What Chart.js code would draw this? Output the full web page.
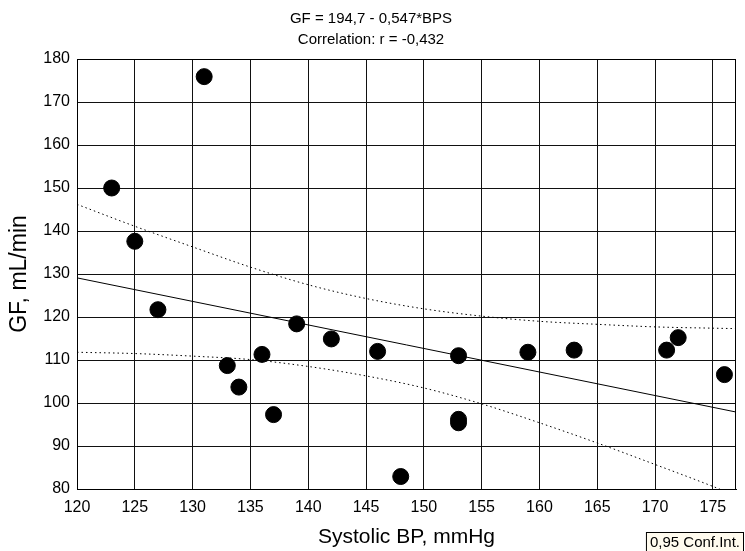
<!DOCTYPE html>
<html>
<head>
<meta charset="utf-8">
<script src="https://cdn.jsdelivr.net/npm/chart.js@4/dist/chart.umd.min.js"></script>
<style>
  body { margin: 0; background: #fff; }
  #wrap { width: 745px; height: 551px; }
</style>
</head>
<body>
<div id="wrap"><canvas id="chart-div" width="745" height="551"></canvas></div>
<script>
// data
const bpValues = [123, 125, 127, 131, 133, 134, 136, 137, 139, 142, 146, 148, 153, 153, 153, 159, 163, 171, 172, 176];
const gfValues = [150, 137.6, 121.7, 175.9, 108.7, 103.7, 111.3, 97.3, 118.4, 114.9, 112.0, 82.9, 111.0, 96.2, 95.4, 111.8, 112.3, 112.3, 115.2, 106.6];

// fitted line GF = 194,7 - 0,547*BPS, end points
const fitX = [120, 177];
const fitY = [129.1, 97.9];

// 0,95 confidence band
const bandX = [120, 125, 130, 135, 140, 145, 150, 155, 160, 165, 170, 175, 177];
const bandUpper = [146.2, 141.1, 136.3, 131.6, 127.5, 124.3, 121.9, 120.2, 119.0, 118.3, 117.7, 117.4, 117.3];
const bandLower = [111.8, 111.5, 110.9, 110.1, 108.5, 106.3, 103.5, 99.8, 95.4, 90.7, 85.7, 80.6, 78.4];

const xTicks = [120, 125, 130, 135, 140, 145, 150, 155, 160, 165, 170, 175];
const yTicks = [80, 90, 100, 110, 120, 130, 140, 150, 160, 170, 180];

const titleLines = ['GF = 194,7 - 0,547*BPS', 'Correlation: r = -0,432'];
const xTitle = 'Systolic BP, mmHg';
const yTitle = 'GF, mL/min';
const ciLabel = '0,95 Conf.Int.';

const FONT = '"Liberation Sans", Arial, sans-serif';
Chart.defaults.font.family = FONT;
Chart.defaults.color = '#000';

function pairs(xs, ys) {
    return xs.map((x, i) => ({ x: x, y: ys[i] }));
}

// frame round the plot + the conf. int. box
const framePlugin = {
    id: 'frame',
    afterDraw(chart) {
        const ctx = chart.ctx;
        const a = chart.chartArea;
        ctx.save();
        ctx.strokeStyle = '#000';
        ctx.lineWidth = 1;
        ctx.strokeRect(Math.round(a.left) + 0.5, Math.round(a.top) + 0.5,
            Math.round(a.right - a.left) - 1, Math.round(a.bottom - a.top));

        ctx.font = '15px ' + FONT;
        const w = ctx.measureText(ciLabel).width + 8;
        const h = 19;
        const bx = chart.width - 1 - w;
        const by = chart.height - h;
        ctx.fillStyle = '#fffbee';
        ctx.fillRect(bx, by, w, h);
        ctx.strokeRect(bx + 0.5, by + 0.5, w - 1, h);
        ctx.fillStyle = '#000';
        ctx.textBaseline = 'middle';
        ctx.fillText(ciLabel, bx + 4, by + h / 2 + 1);
        ctx.restore();
    }
};

const ctx = document.getElementById('chart-div').getContext('2d');

const chart = new Chart(ctx, {
    type: 'scatter',
    data: {
        datasets: [
            {
                label: 'points',
                data: pairs(bpValues, gfValues),
                backgroundColor: '#000',
                borderColor: '#000',
                pointRadius: 8,
                pointHoverRadius: 8
            },
            {
                label: 'fit',
                type: 'line',
                data: pairs(fitX, fitY),
                borderColor: '#000',
                borderWidth: 1,
                pointRadius: 0,
                fill: false
            },
            {
                label: 'upper',
                type: 'line',
                data: pairs(bandX, bandUpper),
                borderColor: '#000',
                borderWidth: 1,
                borderDash: [1.5, 3],
                pointRadius: 0,
                cubicInterpolationMode: 'monotone',
                fill: false
            },
            {
                label: 'lower',
                type: 'line',
                data: pairs(bandX, bandLower),
                borderColor: '#000',
                borderWidth: 1,
                borderDash: [1.5, 3],
                pointRadius: 0,
                cubicInterpolationMode: 'monotone',
                fill: false
            }
        ]
    },
    options: {
        responsive: false,
        animation: false,
        layout: { padding: { left: 0, right: 3, top: 0, bottom: 0 } },
        plugins: {
            legend: { display: false },
            tooltip: { enabled: false },
            title: {
                display: true,
                text: titleLines,
                font: { size: 15, weight: 'normal', lineHeight: 1.4 },
                padding: { top: 8, bottom: 9 }
            }
        },
        scales: {
            x: {
                type: 'linear',
                min: 120,
                max: 177,
                afterFit(scale) { scale.height = 62; },
                afterBuildTicks(scale) { scale.ticks = xTicks.map(v => ({ value: v })); },
                ticks: { font: { size: 16 }, padding: 9, includeBounds: false },
                grid: { color: '#111', lineWidth: 1, drawTicks: false },
                border: { display: true, color: '#000' },
                title: { display: true, text: xTitle, font: { size: 21 }, padding: { top: 0, bottom: 1 } }
            },
            y: {
                min: 80,
                max: 180,
                afterFit(scale) { scale.width = 77; },
                afterBuildTicks(scale) { scale.ticks = yTicks.map(v => ({ value: v })); },
                ticks: { font: { size: 16 }, padding: 7 },
                grid: { color: '#111', lineWidth: 1, drawTicks: false },
                border: { display: true, color: '#000' },
                title: { display: true, text: yTitle, font: { size: 23 }, padding: { top: 6, bottom: 0 } }
            }
        }
    },
    plugins: [framePlugin]
});
</script>
</body>
</html>
